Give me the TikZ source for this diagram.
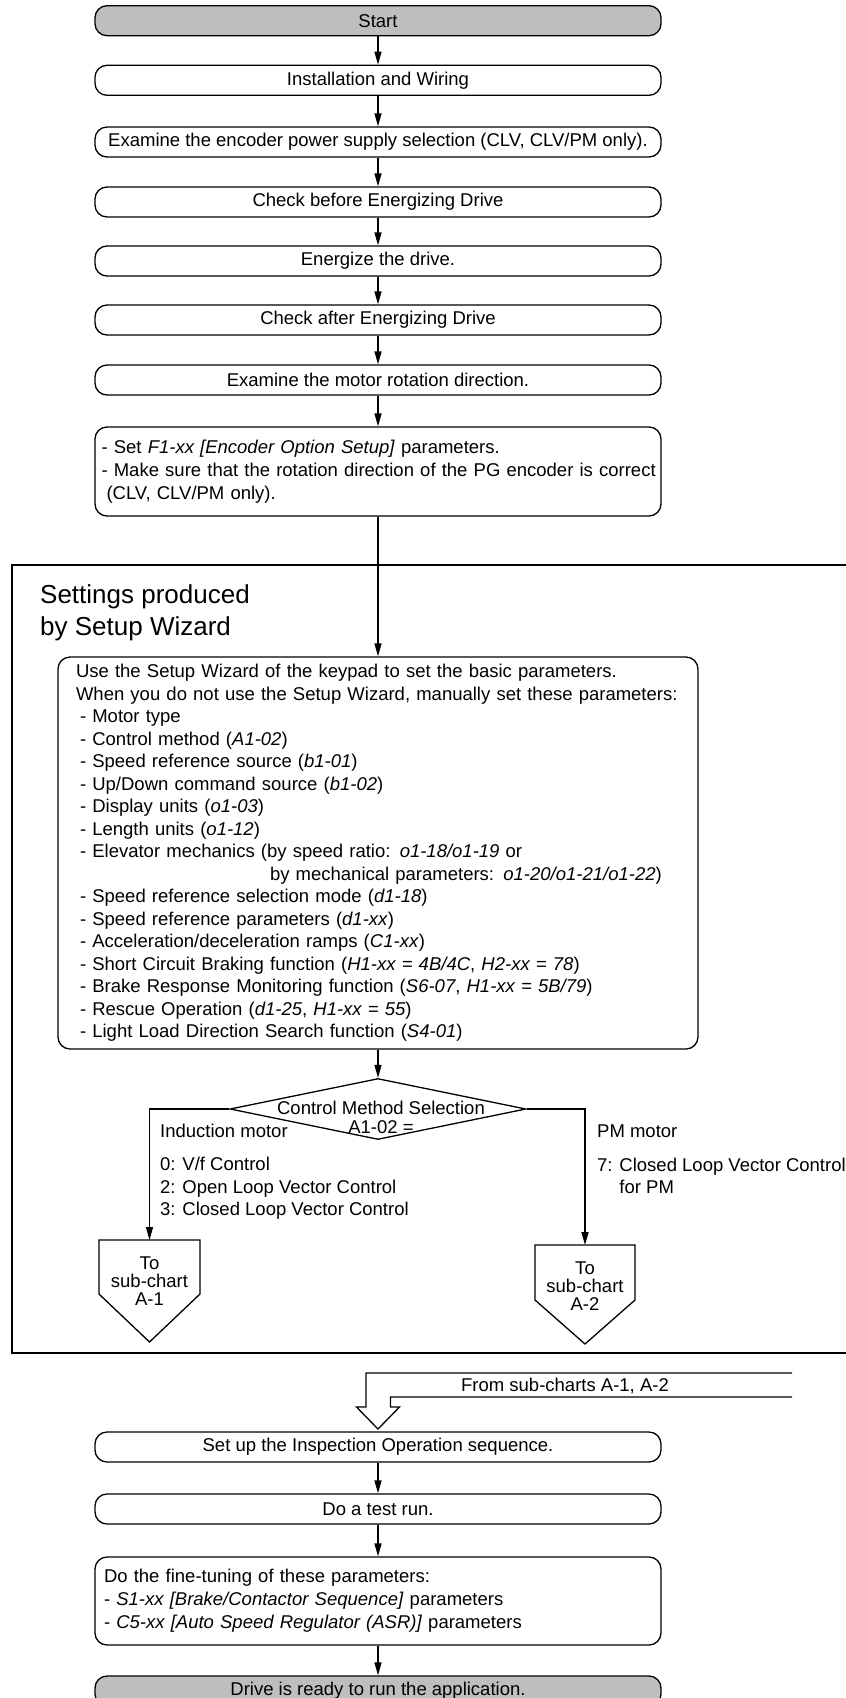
\documentclass[tikz,border=0pt]{standalone}
\usepackage{fontspec}
\setmainfont{Liberation Sans}
\usetikzlibrary{arrows.meta,shapes.geometric,calc}
\definecolor{termgray}{RGB}{190,190,190}
\begin{document}
\begin{tikzpicture}[x=1pt,y=-1pt,
  every node/.style={font=\fontsize{18.5}{23}\selectfont},
  box/.style={draw, line width=1.3pt, rounded corners=12pt, minimum width=566pt, minimum height=30pt, inner sep=0pt, align=center},
  term/.style={box, fill=termgray},
  arr/.style={line width=1.3pt, -{Triangle[length=13pt,width=7pt]}},
  frm/.style={line width=1.5pt},
  lbl/.style={anchor=west, align=left, inner sep=0pt},
]
\useasboundingbox (0,0) rectangle (846,1698);
\clip (0,0) rectangle (846,1698);

% main chain
\node[term] (start) at (378,20.7) {Start};
\node[box] (install) at (378,80.3) {Installation and Wiring};
\node[box] (encpow) at (378,142) {Examine the encoder power supply selection (CLV, CLV/PM only).};
\node[box] (chkbef) at (378,202) {Check before Energizing Drive};
\node[box] (energ) at (378,261) {Energize the drive.};
\node[box] (chkaft) at (378,320) {Check after Energizing Drive};
\node[box] (motrot) at (378,380) {Examine the motor rotation direction.};
\node[box, minimum height=89pt, text width=553pt, align=left] (setf) at (378,471.5)
  {- Set \textit{F1-xx [Encoder Option Setup]} parameters.\\
   \mbox{- Make sure that the rotation direction of the PG encoder is correct}\\
   \hspace*{5pt}(CLV, CLV/PM only).};

\draw[arr] (start) -- (install);
\draw[arr] (install) -- (encpow);
\draw[arr] (encpow) -- (chkbef);
\draw[arr] (chkbef) -- (energ);
\draw[arr] (energ) -- (chkaft);
\draw[arr] (chkaft) -- (motrot);
\draw[arr] (motrot) -- (setf);

% frame
\draw[frm] (850,565) -- (12,565) -- (12,1353) -- (850,1353);
\node[lbl, font=\fontsize{26}{32}\selectfont] (frmtitle) at (40,612.5) {Settings produced\\by Setup Wizard};

\node[box, minimum width=640pt, minimum height=392pt, text width=604pt, align=left, font=\fontsize{18.5}{22.5}\selectfont] (wiz) at (378,853)
  {Use the Setup Wizard of the keypad to set the basic parameters.\\
   \mbox{When you do not use the Setup Wizard, manually set these parameters:}\\
   \hspace*{4pt}- Motor type\\
   \hspace*{4pt}- Control method (\textit{A1-02})\\
   \hspace*{4pt}- Speed reference source (\textit{b1-01})\\
   \hspace*{4pt}- Up/Down command source (\textit{b1-02})\\
   \hspace*{4pt}- Display units (\textit{o1-03})\\
   \hspace*{4pt}- Length units (\textit{o1-12})\\
   \hspace*{4pt}- Elevator mechanics (by speed ratio: \textit{o1-18/o1-19} or\\
   \hspace*{194pt}by mechanical parameters: \textit{o1-20/o1-21/o1-22})\\
   \hspace*{4pt}- Speed reference selection mode (\textit{d1-18})\\
   \hspace*{4pt}- Speed reference parameters (\textit{d1-xx})\\
   \hspace*{4pt}- Acceleration/deceleration ramps (\textit{C1-xx})\\
   \hspace*{4pt}- Short Circuit Braking function (\textit{H1-xx = 4B/4C}, \textit{H2-xx = 78})\\
   \hspace*{4pt}- Brake Response Monitoring function (\textit{S6-07}, \textit{H1-xx = 5B/79})\\
   \hspace*{4pt}- Rescue Operation (\textit{d1-25}, \textit{H1-xx = 55})\\
   \hspace*{4pt}- Light Load Direction Search function (\textit{S4-01})};
\draw[arr] (setf) -- (wiz);

% decision
\node[diamond, draw, line width=1.3pt, minimum width=296pt, minimum height=61pt, inner sep=0pt] (dec) at (378,1109) {};
\node[align=center, inner sep=0pt, font=\fontsize{18.5}{19}\selectfont] (dectext) at (381,1117.5) {Control Method Selection\\A1-02 =};
\draw[arr] (wiz) -- (dec);

% sub-chart connectors
\coordinate (s1top) at (149.5,1240);
\coordinate (s2top) at (585,1245);
\draw[line width=1.3pt] (149.5,1240) -- (200,1240) -- (200,1294) -- (149.5,1342) -- (99,1294) -- (99,1240) -- cycle;
\draw[line width=1.3pt] (585,1245) -- (635,1245) -- (635,1300) -- (585,1344) -- (535,1300) -- (535,1245) -- cycle;
\node[align=center, inner sep=0pt, font=\fontsize{18.5}{18}\selectfont] (sub1) at (149.5,1281) {To\\sub-chart\\A-1};
\node[align=center, inner sep=0pt, font=\fontsize{18.5}{18}\selectfont] (sub2) at (585,1286) {To\\sub-chart\\A-2};
\draw[arr] (dec.west) -| (s1top);
\draw[arr] (dec.east) -| (s2top);

\node[lbl] (indm) at (160,1131) {Induction motor};
\node[lbl, font=\fontsize{18.5}{22.5}\selectfont] (indlist) at (160,1188.5) {0: V/f Control\\2: Open Loop Vector Control\\3: Closed Loop Vector Control};
\node[lbl] (pmm) at (597,1131) {PM motor};
\node[lbl, font=\fontsize{18.5}{22.5}\selectfont] (pmlist) at (597,1176) {7: Closed Loop Vector Control\\\phantom{7: }for PM};

% hollow arrow from sub-charts
\draw[line width=1.3pt, line join=miter] (792,1373) -- (366,1373) -- (366,1407) -- (356.5,1407) -- (378,1429) -- (399.5,1407) -- (390.5,1407) -- (390.5,1397) -- (792,1397);
\node (fromsub) at (565,1385.5) {From sub-charts A-1, A-2};

% lower chain
\node[box] (insp) at (378,1447) {Set up the Inspection Operation sequence.};
\node[box] (test) at (378,1509) {Do a test run.};
\node[box, minimum height=88pt, text width=548pt, align=left] (fine) at (378,1601)
  {Do the fine-tuning of these parameters:\\
   - \textit{S1-xx [Brake/Contactor Sequence]} parameters\\
   - \textit{C5-xx [Auto Speed Regulator (ASR)]} parameters};
\node[term] (ready) at (378,1691) {Drive is ready to run the application.};

\draw[arr] (insp) -- (test);
\draw[arr] (test) -- (fine);
\draw[arr] (fine) -- (ready);
\end{tikzpicture}
\end{document}
